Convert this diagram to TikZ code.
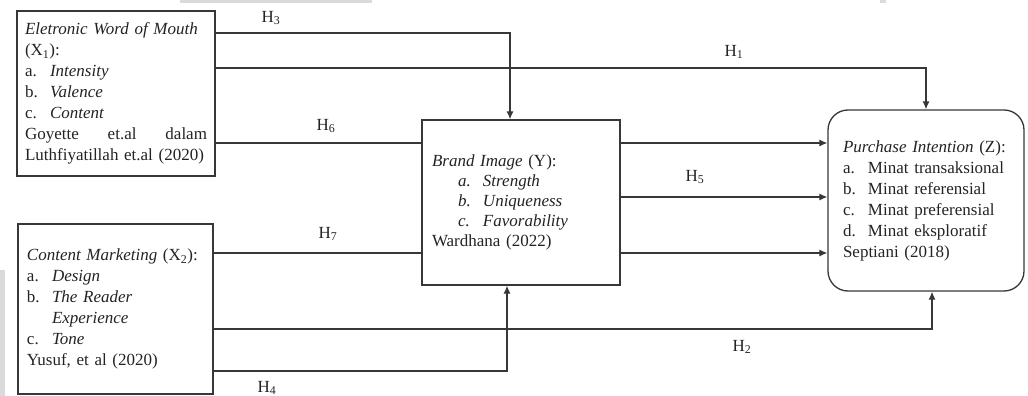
\documentclass[tikz,border=0pt]{standalone}
\usepackage{fontspec}
\setmainfont{Liberation Serif}
\usepackage{xcolor}
\usepackage{tikz}
\usetikzlibrary{arrows.meta, calc}
\definecolor{inkline}{RGB}{55, 55, 55}
\definecolor{inktext}{RGB}{35, 35, 35}
\definecolor{wmark}{RGB}{218, 218, 218}

\newcommand{\itm}[1]{\makebox[25pt][l]{#1}}

\begin{document}
\begin{tikzpicture}[
    x=1pt, y=-1pt,
    >={Latex[length=8pt, width=7pt]},
    % Box Styles
    varbox/.style={rectangle, draw=inkline, line width=1.3pt, align=left, text=inktext, font=\fontsize{17}{21}\selectfont, inner ysep=0pt},
    depbox/.style={varbox, rounded corners=20pt},
    % Arrow Styles
    link/.style={->, line width=1.2pt, color=inkline},
    flat/.style={line width=1.2pt, color=inkline},
    hlabel/.style={text=inktext, font=\fontsize{17}{21}\selectfont, inner sep=0pt}
]
    \useasboundingbox (0,0) rectangle (1028,396);

    % background marks
    \fill[wmark] (180,0) rectangle (372,3);
    \fill[wmark] (880,0) rectangle (886,3);
    \fill[wmark] (0,270) rectangle (5,396);

    % =========================================================================
    % 1. INDEPENDENT VARIABLES
    % =========================================================================
    \node (ewom) [varbox, text width=182pt, inner xsep=8pt, minimum width=198pt, minimum height=165pt] at (116, 93.5) {
      \textit{Eletronic Word of Mouth}\\
      (X\textsubscript{1}):\\
      \itm{a.}\textit{Intensity}\\
      \itm{b.}\textit{Valence}\\
      \itm{c.}\textit{Content}\\
      Goyette \hfill et.al \hfill dalam\\
      Luthfiyatillah et.al (2020)
    };
    \node (cmkt) [varbox, text width=177pt, inner xsep=9pt, minimum width=195pt, minimum height=170pt] at (115.5, 309) {
      \textit{Content Marketing} (X\textsubscript{2}):\\
      \itm{a.}\textit{Design}\\
      \itm{b.}\textit{The Reader}\\
      \hspace*{25pt}\textit{Experience}\\
      \itm{c.}\textit{Tone}\\
      Yusuf, et al (2020)
    };

    % =========================================================================
    % 2. MEDIATOR AND DEPENDENT VARIABLE
    % =========================================================================
    \node (brand) [varbox, font=\fontsize{17}{20}\selectfont, text width=178pt, inner xsep=10pt, minimum width=198pt, minimum height=165pt] at (521, 202.5) {
      \textit{Brand Image} (Y):\\
      \hspace*{26pt}\itm{\textit{a.}}\textit{Strength}\\
      \hspace*{26pt}\itm{\textit{b.}}\textit{Uniqueness}\\
      \hspace*{26pt}\itm{\textit{c.}}\textit{Favorability}\\
      Wardhana (2022)
    };
    \node (intent) [depbox, text width=166pt, inner xsep=15pt, minimum width=196pt, minimum height=181pt] at (926, 200.5) {
      \textit{Purchase Intention} (Z):\\
      \itm{a.}Minat transaksional\\
      \itm{b.}Minat referensial\\
      \itm{c.}Minat preferensial\\
      \itm{d.}Minat eksploratif\\
      Septiani (2018)
    };

    % =========================================================================
    % CONNECTIONS
    % =========================================================================
    % H3: X1 -> Y
    \draw[link] (ewom.east |- 0,33) -| ([xshift=-11pt]brand.north);
    % H1: X1 -> Z
    \draw[link] (ewom.east |- 0,68) -| (intent.north);
    % H6: X1 -- Y
    \draw[flat] (ewom.east |- 0,143) -- (brand.west |- 0,143);
    % H7: X2 -- Y
    \draw[flat] (cmkt.east |- 0,253) -- (brand.west |- 0,253);
    % Y -> Z (H5)
    \draw[link] (brand.east |- 0,143) -- (intent.west |- 0,143);
    \draw[link] (brand.east |- 0,197) -- (intent.west |- 0,197);
    \draw[link] (brand.east |- 0,253) -- (intent.west |- 0,253);
    % H2: X2 -> Z
    \draw[link] (cmkt.east |- 0,329) -| ([xshift=6pt]intent.south);
    % H4: X2 -> Y
    \draw[link] (cmkt.east |- 0,371) -| ([xshift=-14pt]brand.south);

    % hypothesis labels
    \node (h3) [hlabel] at (271, 18) {H\textsubscript{3}};
    \node (h1) [hlabel] at (734, 52) {H\textsubscript{1}};
    \node (h6) [hlabel] at (326, 126) {H\textsubscript{6}};
    \node (h5) [hlabel] at (695, 177) {H\textsubscript{5}};
    \node (h7) [hlabel] at (328, 234) {H\textsubscript{7}};
    \node (h2) [hlabel] at (742, 347) {H\textsubscript{2}};
    \node (h4) [hlabel] at (267, 388) {H\textsubscript{4}};

\end{tikzpicture}
\end{document}
